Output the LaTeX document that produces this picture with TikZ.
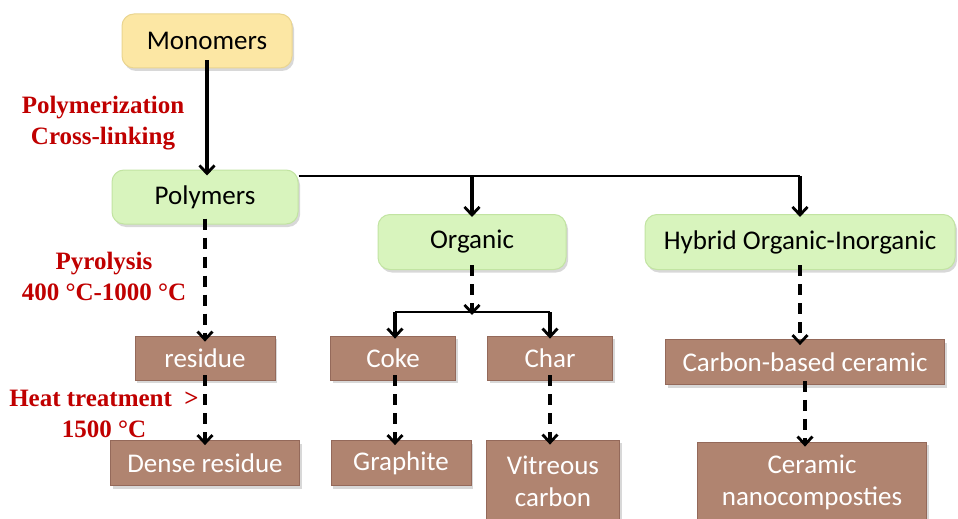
\documentclass[tikz,border=0pt]{standalone}
\usepackage{fontspec}
\setmainfont{Carlito}
\newfontfamily\labfont{Liberation Serif}
\usetikzlibrary{arrows.meta,shadows}
\definecolor{yel}{HTML}{FCE7A4}
\definecolor{yelb}{HTML}{EAD590}
\definecolor{grn}{HTML}{D8F4BD}
\definecolor{grnb}{HTML}{C2E4A2}
\definecolor{brn}{HTML}{B08470}
\definecolor{brnb}{HTML}{94695A}
\definecolor{lab}{HTML}{C00000}
\begin{document}
\begin{tikzpicture}[x=1pt,y=-1pt,
  basebox/.style={inner sep=0pt, font=\fontsize{27}{32}\selectfont, align=center,
    drop shadow={shadow xshift=2pt,shadow yshift=-3pt,opacity=0.3}},
  yelbox/.style={basebox, rounded corners=12pt, fill=yel, draw=yelb, line width=1pt, text=black},
  grnbox/.style={basebox, rounded corners=12pt, fill=grn, draw=grnb, line width=1pt, text=black},
  brnbox/.style={basebox, fill=brn, draw=brnb, line width=0.8pt, text=white},
  lbl/.style={font=\labfont\bfseries\fontsize{25}{31}\selectfont, text=lab, align=center},
  arr/.style={line width=3.2pt, -{Straight Barb[length=8pt,width=15pt,line width=2.8pt]}},
  darr/.style={arr, dash pattern=on 11pt off 8pt},
  thinline/.style={line width=1.8pt}
]
\useasboundingbox (0,0) rectangle (958,519);
\fill[white] (0,0) rectangle (958,519);

% nodes
\node[yelbox, minimum width=170pt, minimum height=54pt] (mono) at (207,41) {Monomers};
\node[grnbox, minimum width=186pt, minimum height=54pt] (poly) at (205,197) {Polymers};
\node[grnbox, minimum width=188pt, minimum height=55pt] (org) at (472,242) {Organic};
\node[grnbox, minimum width=310pt, minimum height=55pt] (hyb) at (800,242) {Hybrid Organic-Inorganic};

\node[brnbox, minimum width=140pt, minimum height=44pt] (res) at (205,358) {residue};
\node[brnbox, minimum width=189pt, minimum height=45pt] (dres) at (205,463) {Dense residue};
\node[brnbox, minimum width=125pt, minimum height=44pt] (coke) at (393,358) {Coke};
\node[brnbox, minimum width=125pt, minimum height=44pt] (char) at (550,358) {Char};
\node[brnbox, minimum width=140pt, minimum height=45pt] (graph) at (401,463) {Graphite};
\node[brnbox, minimum width=133pt, minimum height=82pt] (vit) at (553,481) {Vitreous\\carbon};
\node[brnbox, minimum width=279pt, minimum height=45pt] (cbc) at (805,362) {Carbon-based ceramic};
\node[brnbox, minimum width=229pt, minimum height=80pt] (cern) at (812,482) {Ceramic\\nanocomposties};

% labels
\node[lbl] (l1) at (103,123) {Polymerization\\Cross-linking};
\node[lbl] (l2) at (104,276) {Pyrolysis\\400~°C-1000~°C};
\node[lbl] (l3) at (104,414) {Heat treatment~~>\\1500~°C};

% connectors
\draw[arr] ([yshift=8pt]mono.south) -- ([yshift=-6pt]poly.north -| mono.south);

\coordinate (j1) at (472,176);
\coordinate (j2) at (800,176);
\draw[thinline] (poly.east |- j1) -- (j2);
\draw[arr] (j1) -- ([yshift=-3pt]org.north);
\draw[arr] (j2) -- ([yshift=-3pt]hyb.north);

\draw[darr] ([yshift=6pt]poly.south) -- ([yshift=-6pt]res.north);
\draw[darr] ([yshift=5pt]res.south) -- ([yshift=-5pt]dres.north);

\coordinate (s0) at (472,312);
\coordinate (s1) at (395,312);
\coordinate (s2) at (550,312);
\draw[darr] ([yshift=5pt]org.south) -- ([yshift=-3pt]s0);
\draw[thinline] (s1) -- (s2);
\draw[arr] (s1) -- ([yshift=-3pt]coke.north -| s1);
\draw[arr] (s2) -- ([yshift=-3pt]char.north -| s2);

\draw[darr] ([yshift=5pt]coke.south -| s1) -- ([yshift=-5pt]graph.north -| s1);
\draw[darr] ([yshift=5pt]char.south -| s2) -- ([yshift=-5pt]vit.north -| s2);

\draw[darr] ([yshift=5pt]hyb.south) -- ([yshift=-6pt]cbc.north -| hyb.south);
\draw[darr] ([yshift=4pt]cbc.south) -- ([yshift=-5pt]cern.north -| cbc.south);
\end{tikzpicture}
\end{document}
